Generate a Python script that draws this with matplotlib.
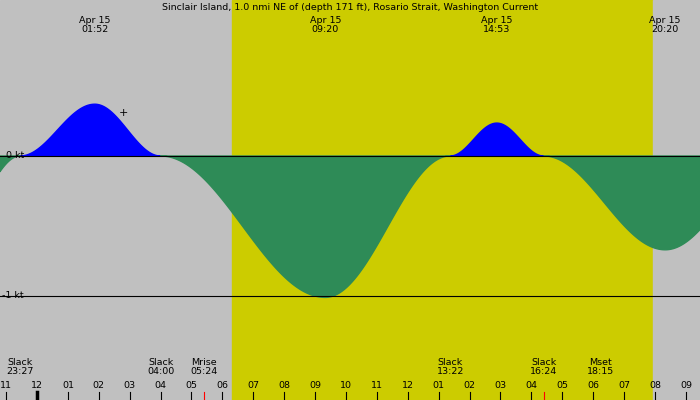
import numpy as np
import matplotlib
matplotlib.use("Agg")
import matplotlib.pyplot as plt

# events: hours since midnight Apr 15, speed in knots
ev_t = [-2.5, -0.55, 1.87, 4.0, 9.33, 13.37, 14.88, 16.4, 20.33, 24.0]
ev_v = [-0.45, 0.0, 0.37, 0.0, -1.01, 0.0, 0.235, 0.0, -0.67, 0.0]
top_labels = [(1.87, "Apr 15\n01:52"), (9.33, "Apr 15\n09:20"), (14.88, "Apr 15\n14:53"), (20.33, "Apr 15\n20:20")]
bot_labels = [(-0.55, "Slack\n23:27"), (4.0, "Slack\n04:00"), (5.4, "Mrise\n05:24"),
              (13.37, "Slack\n13:22"), (16.4, "Slack\n16:24"), (18.25, "Mset\n18:15")]
hour_labels = ["11","12","01","02","03","04","05","06","07","08","09","10","11","12",
               "01","02","03","04","05","06","07","08","09"]
sunrise, sunset = 6.31, 19.93

def x2t(x): return (x - 37) / 30.9
def y2v(y): return (156 - y) / 140.0

t = np.linspace(x2t(0), x2t(700), 1500)
v = np.zeros_like(t)
for i in range(len(ev_t) - 1):
    m = (t >= ev_t[i]) & (t <= ev_t[i+1])
    f = (t[m] - ev_t[i]) / (ev_t[i+1] - ev_t[i])
    v[m] = ev_v[i] + (ev_v[i+1] - ev_v[i]) * (1 - np.cos(np.pi * f)) / 2

fig = plt.figure(figsize=(7, 4), dpi=100)
ax = fig.add_axes([0, 0, 1, 1])
ax.set_xlim(x2t(0), x2t(700)); ax.set_ylim(y2v(400), y2v(0))
ax.axis("off")
ax.axvspan(x2t(0), sunrise, color="#C0C0C0", zorder=0)
ax.axvspan(sunrise, sunset, color="#CCCC00", zorder=0)
ax.axvspan(sunset, x2t(700), color="#C0C0C0", zorder=0)
ax.fill_between(t, 0, v, where=v >= 0, color="#0000FF", zorder=2, interpolate=True)
ax.fill_between(t, 0, v, where=v <= 0, color="#2E8B57", zorder=2, interpolate=True)
ax.axhline(0, color="black", lw=0.8, zorder=3)
ax.axhline(-1, color="black", lw=0.8, zorder=3)
fs = 6.8
ax.text(x2t(6), 0, "0 kt", fontsize=fs, va="center", ha="left", zorder=4)
ax.text(x2t(2), -1, "-1 kt", fontsize=fs, va="center", ha="left", zorder=4)
ax.text(x2t(123), y2v(113), "+", fontsize=8, ha="center", va="center", zorder=4)
ax.text(x2t(350), y2v(8), "Sinclair Island, 1.0 nmi NE of (depth 171 ft), Rosario Strait, Washington Current",
        fontsize=fs, ha="center", va="center")
for tt, s in top_labels:
    ax.text(tt, y2v(25), s, fontsize=fs, ha="center", va="center", linespacing=1.0)
for tt, s in bot_labels:
    ax.text(tt, y2v(367), s, fontsize=fs, ha="center", va="center", linespacing=1.0)
for i, s in enumerate(hour_labels):
    h = -1 + i
    ax.text(h, y2v(385), s, fontsize=fs, ha="center", va="center")
    ax.plot([h, h], [y2v(392), y2v(400)], color="black", lw=0.8)
ax.plot([0, 0], [y2v(392), y2v(400)], color="black", lw=2.5)
for h in [5.4, 16.4]:
    ax.plot([h, h], [y2v(392), y2v(400)], color="red", lw=0.8)
fig.savefig("out.png", dpi=100)
